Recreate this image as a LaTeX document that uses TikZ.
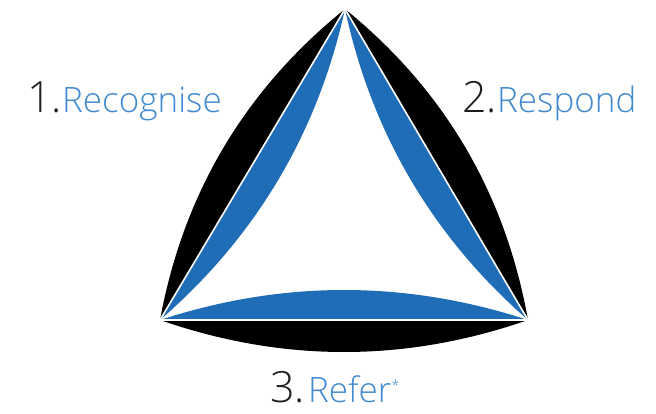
\documentclass[tikz,border=0pt]{standalone}
\usepackage{fontspec}
\setmainfont{Open Sans Light}
\usepackage{xcolor}
\usetikzlibrary{calc}

\definecolor{lensblue}{RGB}{31,109,183}
\definecolor{wordblue}{RGB}{66,138,207}
\definecolor{numgrey}{RGB}{30,30,30}

\begin{document}
\begin{tikzpicture}[
      x=1pt, y=-1pt,
      outerlens/.style={fill=black},
      innerlens/.style={fill=lensblue},
      edge/.style={draw=white, line width=1.6pt, line join=miter},
      num/.style={font=\fontsize{43}{43}\selectfont, text=numgrey, inner sep=0pt, anchor=base west},
      word/.style={font=\fontsize{35}{35}\selectfont, text=wordblue, inner sep=0pt, anchor=base west},
    ]
    \useasboundingbox (0,0) rectangle (656,414);
    \coordinate (top) at (345,9);
    \coordinate (left) at (160,320);
    \coordinate (right) at (528,320);
    % quadratic control points, outer and inner
    \coordinate (lo) at (195,130);
    \coordinate (ro) at (494,130);
    \coordinate (bo) at (344,384);
    \coordinate (li) at (304,195.2);
    \coordinate (ri) at (384.8,194.9);
    \coordinate (bi) at (344,260);
    % outer black lenses
    \fill[outerlens] (left) .. controls ($(left)!2/3!(lo)$) and ($(top)!2/3!(lo)$) .. (top) -- cycle;
    \fill[outerlens] (top) .. controls ($(top)!2/3!(ro)$) and ($(right)!2/3!(ro)$) .. (right) -- cycle;
    \fill[outerlens] (right) .. controls ($(right)!2/3!(bo)$) and ($(left)!2/3!(bo)$) .. (left) -- cycle;
    % inner blue lenses
    \fill[innerlens] (left) .. controls ($(left)!2/3!(li)$) and ($(top)!2/3!(li)$) .. (top) -- cycle;
    \fill[innerlens] (top) .. controls ($(top)!2/3!(ri)$) and ($(right)!2/3!(ri)$) .. (right) -- cycle;
    \fill[innerlens] (right) .. controls ($(right)!2/3!(bi)$) and ($(left)!2/3!(bi)$) .. (left) -- cycle;
    % white separating edges
    \draw[edge] (left) -- (top) -- (right) -- cycle;
    % labels
    \node[num] (n1) at (27,113) {1.};
    \node[word] (w1) at (62,113) {Recognise};
    \node[num] (n2) at (462,113) {2.};
    \node[word] (w2) at (497,113) {Respond};
    \node[num] (n3) at (270,402) {3.};
    \node[word] (w3) at (308,402) {Refer\raisebox{12pt}{\fontsize{14}{14}\selectfont *}};
\end{tikzpicture}
\end{document}
